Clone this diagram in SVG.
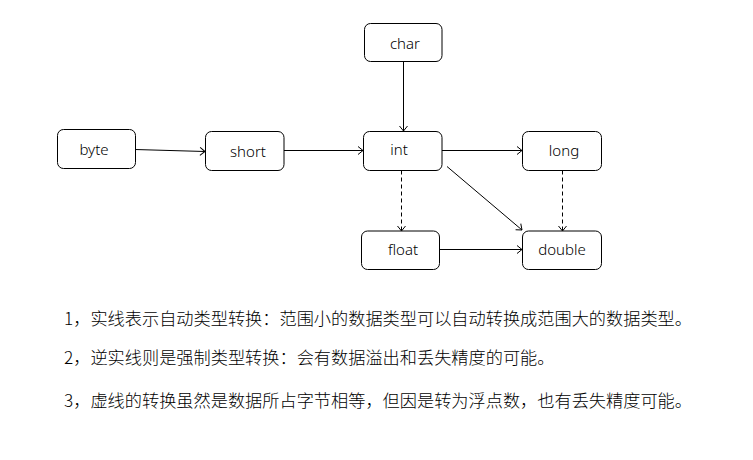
<svg xmlns="http://www.w3.org/2000/svg" width="753" height="460" viewBox="0 0 753 460">
<style>
.box{fill:#fff;stroke:#000;stroke-width:1}
.lbl{font-family:"Noto Sans","Open Sans",sans-serif;font-size:15px;font-weight:300;fill:#000;text-anchor:middle}
.edge{fill:none;stroke:#000;stroke-width:1}
.dash{stroke-dasharray:4 3}
.note{font-family:"Noto Sans CJK SC","Noto Sans",sans-serif;font-size:17.2px;font-weight:300;fill:#000}
</style>
<defs>
<marker id="arr" viewBox="0 0 10 10" refX="9.5" refY="5" markerWidth="10" markerHeight="10" markerUnits="userSpaceOnUse" orient="auto">
<path d="M4.5,1 L9.5,5 L4.5,9" fill="none" stroke="#000" stroke-width="1"/>
</marker>
</defs>
<rect width="753" height="460" fill="#fff"/>
<g id="connectors">
<line class="edge" x1="135" y1="149.5" x2="205" y2="151.5" marker-end="url(#arr)"/>
<line class="edge" x1="284" y1="150.5" x2="363" y2="150.5" marker-end="url(#arr)"/>
<line class="edge" x1="403.5" y1="61.5" x2="403.5" y2="131" marker-end="url(#arr)"/>
<line class="edge" x1="442" y1="150.5" x2="522" y2="150.5" marker-end="url(#arr)"/>
<line class="edge" x1="447" y1="166.5" x2="522" y2="230" marker-end="url(#arr)"/>
<line class="edge dash" x1="401.5" y1="170.5" x2="401.5" y2="231" marker-end="url(#arr)"/>
<line class="edge dash" x1="562.5" y1="170.5" x2="562.5" y2="231" marker-end="url(#arr)"/>
<line class="edge" x1="439" y1="249.5" x2="522" y2="249.5" marker-end="url(#arr)"/>
</g>
<g id="node-char"><rect class="box" x="364.5" y="23.5" width="77.5" height="38" rx="6"/><text class="lbl" x="405" y="49">char</text></g>
<g id="node-byte"><rect class="box" x="57.5" y="129.5" width="78" height="39" rx="6"/><text class="lbl" x="94" y="155">byte</text></g>
<g id="node-short"><rect class="box" x="205.5" y="131.5" width="78.5" height="39" rx="6"/><text class="lbl" x="248" y="157">short</text></g>
<g id="node-int"><rect class="box" x="363.5" y="131.5" width="78.5" height="39" rx="6"/><text class="lbl" x="399" y="155">int</text></g>
<g id="node-long"><rect class="box" x="522.5" y="131.5" width="79" height="39" rx="6"/><text class="lbl" x="564" y="156">long</text></g>
<g id="node-float"><rect class="box" x="361.5" y="231" width="78" height="38.5" rx="6"/><text class="lbl" x="403" y="255">float</text></g>
<g id="node-double"><rect class="box" x="522.5" y="231" width="79" height="38.5" rx="6"/><text class="lbl" x="562" y="255">double</text></g>
<g id="notes">
<text class="note" x="64" y="325">1，实线表示自动类型转换：范围小的数据类型可以自动转换成范围大的数据类型。</text>
<text class="note" x="64" y="364">2，逆实线则是强制类型转换：会有数据溢出和丢失精度的可能。</text>
<text class="note" x="64" y="407">3，虚线的转换虽然是数据所占字节相等，但因是转为浮点数，也有丢失精度可能。</text>
</g>
</svg>
